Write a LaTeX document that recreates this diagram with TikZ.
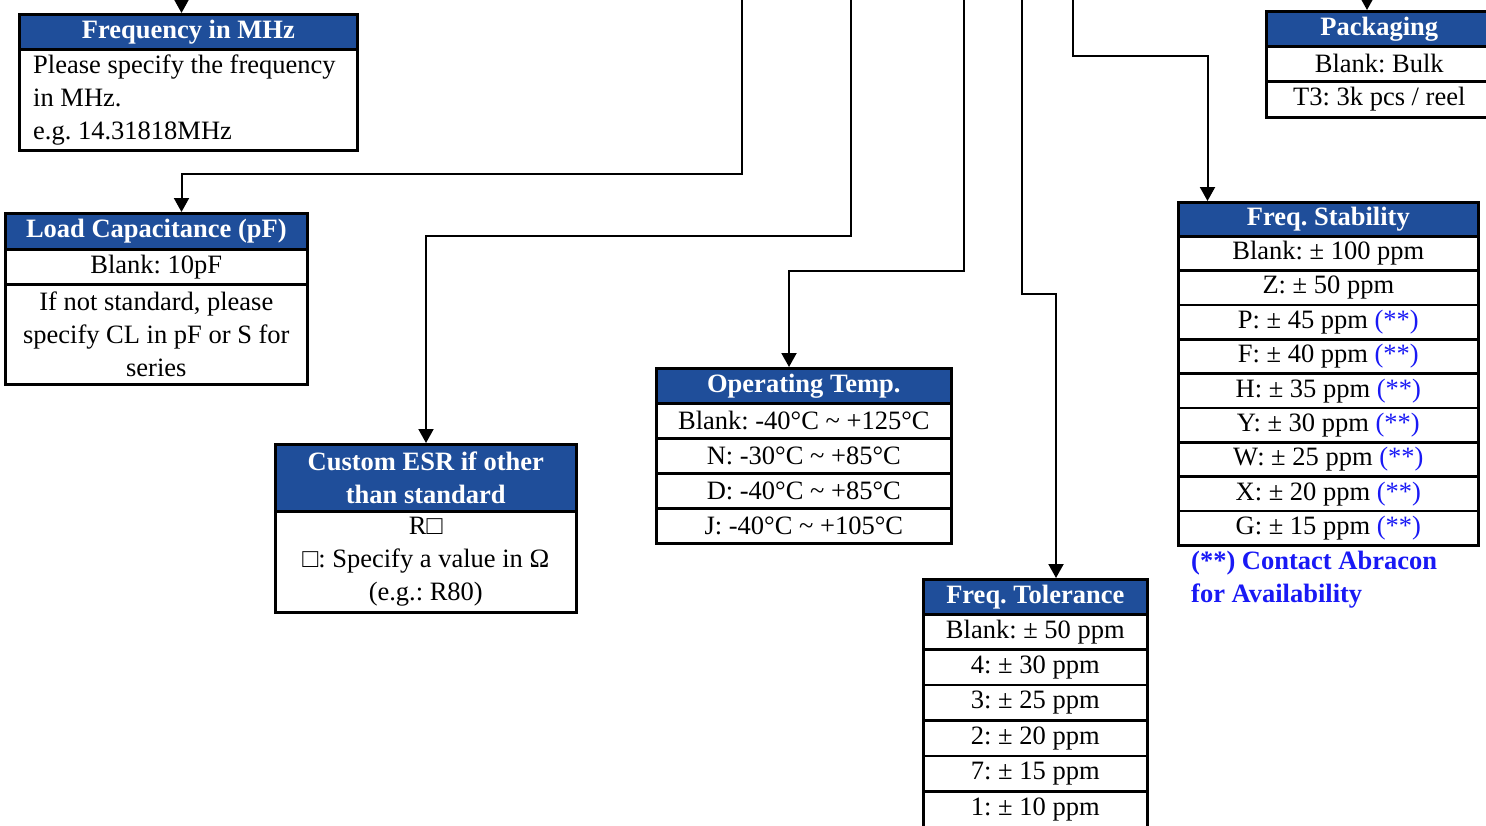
\documentclass[tikz,border=0pt]{standalone}
\usepackage{fontspec}
\setmainfont{Liberation Serif}
\usetikzlibrary{arrows.meta}
\definecolor{hdrblue}{RGB}{31,78,154}
\definecolor{starblue}{RGB}{25,25,245}
\newcommand\dgfont{\fontsize{26.5}{33}\selectfont\frenchspacing}
\newcommand\stars{\textcolor{starblue}{(**)}}
\tikzset{
  hdr/.style={draw=black, line width=2.6pt, fill=hdrblue, text=white,
    font=\dgfont\bfseries, anchor=north west, inner sep=0pt, align=center},
  cell/.style={draw=black, line width=2.6pt, fill=white, text=black,
    font=\dgfont, anchor=north west, inner sep=0pt, align=center},
  conn/.style={draw=black, line width=2pt, -{Triangle[width=15pt,length=14pt]}},
}
\begin{document}
\begin{tikzpicture}[x=1pt,y=-1pt]
\useasboundingbox (0,0) rectangle (1486,825);

% ---------- Frequency in MHz ----------
\node[hdr, minimum width=338pt, minimum height=35pt] (freqH) at (18,13) {Frequency in MHz};
\node[cell, minimum width=338pt, minimum height=101pt] (freqB) at (18,48) {};
\node[anchor=west, inner sep=0pt, align=left, font=\dgfont] (freqT) at ([xshift=15pt]freqB.west)
  {Please specify the frequency\\in MHz.\\e.g. 14.31818MHz};

% ---------- Load Capacitance ----------
\node[hdr, minimum width=302pt, minimum height=36pt] (loadH) at (4,212) {Load Capacitance (pF)};
\node[cell, minimum width=302pt, minimum height=35pt] (load1) at (4,248) {Blank: 10pF};
\node[cell, minimum width=302pt, minimum height=100pt] (load2) at (4,283)
  {If not standard, please\\specify CL in pF or S for\\series};

% ---------- Custom ESR ----------
\node[hdr, minimum width=301pt, minimum height=67pt] (esrH) at (274,443) {Custom ESR if other\\than standard};
\node[cell, minimum width=301pt, minimum height=101pt] (esrB) at (274,510)
  {R□\\□: Specify a value in Ω\\(e.g.: R80)};

% ---------- Operating Temp ----------
\node[hdr, minimum width=295pt, minimum height=35pt] (tempH) at (655,367) {Operating Temp.};
\node[cell, minimum width=295pt, minimum height=35pt] (temp1) at (655,402) {Blank: -40°C \textasciitilde{} +125°C};
\node[cell, minimum width=295pt, minimum height=35pt] (temp2) at (655,437) {N: -30°C \textasciitilde{} +85°C};
\node[cell, minimum width=295pt, minimum height=35pt] (temp3) at (655,472) {D: -40°C \textasciitilde{} +85°C};
\node[cell, minimum width=295pt, minimum height=35pt] (temp4) at (655,507) {J: -40°C \textasciitilde{} +105°C};

% ---------- Freq. Tolerance ----------
\node[hdr, minimum width=224pt, minimum height=35pt] (tolH) at (922,578) {Freq. Tolerance};
\node[cell, minimum width=224pt, minimum height=35.4pt] (tol1) at (922,613) {Blank: ± 50 ppm};
\node[cell, minimum width=224pt, minimum height=35.4pt] (tol2) at (922,648.4) {4: ± 30 ppm};
\node[cell, minimum width=224pt, minimum height=35.4pt] (tol3) at (922,683.8) {3: ± 25 ppm};
\node[cell, minimum width=224pt, minimum height=35.4pt] (tol4) at (922,719.2) {2: ± 20 ppm};
\node[cell, minimum width=224pt, minimum height=35.4pt] (tol5) at (922,754.6) {7: ± 15 ppm};
\node[cell, minimum width=224pt, minimum height=37pt] (tol6) at (922,790) {1: ± 10 ppm};

% ---------- Packaging ----------
\node[hdr, minimum width=226pt, minimum height=35pt] (packH) at (1265,10) {Packaging};
\node[cell, minimum width=226pt, minimum height=35pt] (pack1) at (1265,45) {Blank: Bulk};
\node[cell, minimum width=226pt, minimum height=36pt] (pack2) at (1265,80) {T3: 3k pcs / reel};

% ---------- Freq. Stability ----------
\node[hdr, minimum width=300pt, minimum height=34pt] (stabH) at (1177,201) {Freq. Stability};
\node[cell, minimum width=300pt, minimum height=34.33pt] (stab1) at (1177,235) {Blank: ± 100 ppm};
\node[cell, minimum width=300pt, minimum height=34.33pt] (stab2) at (1177,269.33) {Z: ± 50 ppm};
\node[cell, minimum width=300pt, minimum height=34.33pt] (stab3) at (1177,303.67) {P: ± 45 ppm \stars};
\node[cell, minimum width=300pt, minimum height=34.33pt] (stab4) at (1177,338) {F: ± 40 ppm \stars};
\node[cell, minimum width=300pt, minimum height=34.33pt] (stab5) at (1177,372.33) {H: ± 35 ppm \stars};
\node[cell, minimum width=300pt, minimum height=34.33pt] (stab6) at (1177,406.67) {Y: ± 30 ppm \stars};
\node[cell, minimum width=300pt, minimum height=34.33pt] (stab7) at (1177,441) {W: ± 25 ppm \stars};
\node[cell, minimum width=300pt, minimum height=34.33pt] (stab8) at (1177,475.33) {X: ± 20 ppm \stars};
\node[cell, minimum width=300pt, minimum height=34.33pt] (stab9) at (1177,509.67) {G: ± 15 ppm \stars};

\node[anchor=west, inner sep=0pt, align=left, text=starblue, font=\dgfont\bfseries] (note) at (1191,580)
  {(**) Contact Abracon\\for Availability};

% ---------- Connectors ----------
\coordinate (sFreq) at (181.5,0);
\coordinate (sLoad) at (742,0);
\coordinate (jLoad) at (181.5,174);
\coordinate (sEsr) at (851,0);
\coordinate (jEsr) at (426,236);
\coordinate (sTemp) at (964,0);
\coordinate (jTemp) at (789,271);
\coordinate (sTol) at (1021.5,0);
\coordinate (jTol) at (1056,294);
\coordinate (sStab) at (1073,0);
\coordinate (jStab) at (1207.5,56);
\coordinate (sPack) at (1367,0);

\draw[conn] (sFreq) -- (sFreq |- freqH.north);
\draw[conn] (sLoad) |- (jLoad) -- (jLoad |- loadH.north);
\draw[conn] (sEsr) |- (jEsr) -- (jEsr |- esrH.north);
\draw[conn] (sTemp) |- (jTemp) -- (jTemp |- tempH.north);
\draw[conn] (sTol) |- (jTol) -- (jTol |- tolH.north);
\draw[conn] (sStab) |- (jStab) -- (jStab |- stabH.north);
\draw[conn] (sPack) -- (sPack |- packH.north);
\end{tikzpicture}
\end{document}
